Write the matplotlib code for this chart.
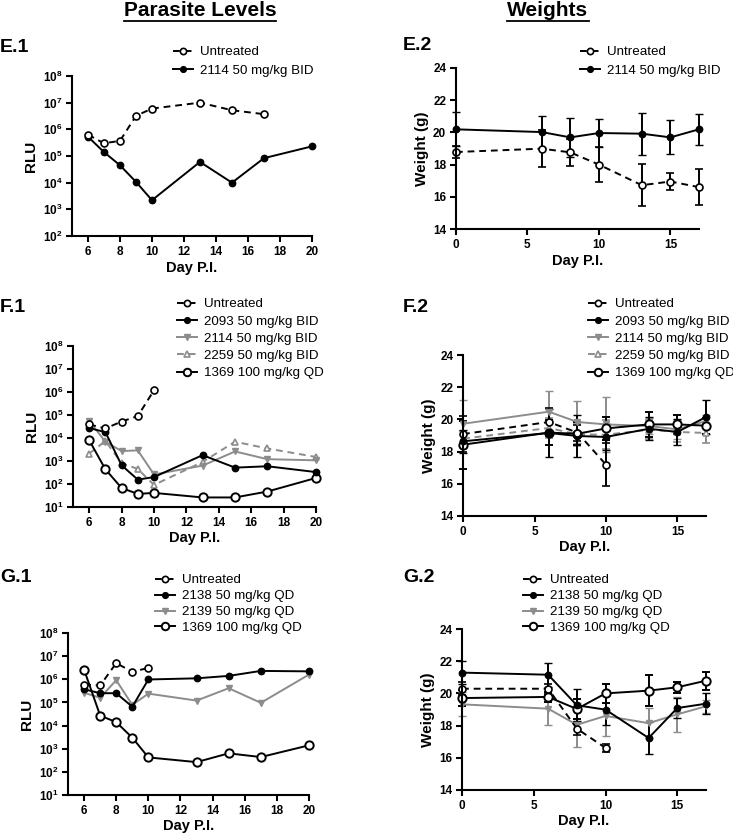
import numpy as np
import matplotlib
matplotlib.use('Agg')
import matplotlib.pyplot as plt
from matplotlib.ticker import FixedLocator, FuncFormatter, NullLocator
from matplotlib.lines import Line2D

plt.rcParams['font.family'] = ['Liberation Sans', 'DejaVu Sans']
plt.rcParams['mathtext.fontset'] = 'custom'
plt.rcParams['mathtext.rm'] = 'Liberation Sans'
plt.rcParams['mathtext.bf'] = 'Liberation Sans:bold'

GRAY = '#8c8c8c'

# ---------------- data ----------------
# parasite levels (RLU)
days_rlu = [6, 7, 8, 9, 10, 13, 15, 17, 20]
days_unt_e = [6, 7, 8, 9, 10, 13, 15, 17]
days_unt_fg = [6, 7, 8, 9, 10]

e1_untreated = [6.3e5, 3.0e5, 3.7e5, 3.2e6, 6.0e6, 1.0e7, 5.2e6, 3.7e6]
e1_2114 = [5.3e5, 1.4e5, 4.5e4, 1.07e4, 2.2e3, 6.0e4, 1.0e4, 8.3e4, 2.3e5]

f1_untreated = [3.9e4, 2.6e4, 5.2e4, 9.0e4, 1.2e6]
f1_2093 = [2.7e4, 1.8e4, 650, 155, 200, 1.8e3, 515, 590, 330]
f1_2114 = [5.5e4, 6.9e3, 2.7e3, 2.9e3, 260, 630, 2.6e3, 1.2e3, 1.07e3]
f1_2259 = [2.1e3, 7.4e3, 810, 450, 91, 910, 6.9e3, 3.5e3, 1.5e3]
f1_1369 = [8.0e3, 435, 67, 37, 41, 26, 26, 47, 183]

g1_untreated = [5.9e5, 5.4e5, 5.0e6, 2.1e6, 3.1e6]
g1_2138 = [3.7e5, 2.5e5, 2.5e5, 6.5e4, 9.8e5, 1.1e6, 1.4e6, 2.3e6, 2.2e6]
g1_2139 = [2.6e5, 1.6e5, 9.1e5, 7.8e4, 2.4e5, 1.2e5, 4.1e5, 9.6e4, 1.6e6]
g1_1369 = [2.6e6, 2.7e4, 1.4e4, 3.0e3, 420, 263, 630, 435, 1.4e3]

# weights (g), mean and error
days_w = [0, 6, 8, 10, 13, 15, 17]
days_w_unt = [0, 6, 8, 10]

e2_untreated = [18.78, 18.99, 18.76, 18.0, 16.72, 16.95, 16.6]
e2_untreated_err = [0.4, 1.15, 0.85, 1.07, 1.3, 0.5, 1.1]
e2_2114 = [20.19, 20.02, 19.69, 19.96, 19.92, 19.69, 20.19]
e2_2114_err = [1.05, 1.0, 1.2, 0.85, 1.3, 1.05, 0.95]

f2_untreated = [19.09, 19.84, 19.18, 17.19]
f2_untreated_err = [1.1, 0.9, 0.5, 1.33]
f2_2093 = [18.64, 19.16, 18.97, 18.91, 19.42, 19.22, 20.15]
f2_2093_err = [0.7, 1.5, 1.3, 0.8, 0.7, 0.8, 1.05]
f2_2114 = [19.73, 20.48, 19.84, 19.69, 19.59, 19.38, 19.9]
f2_2114_err = [1.45, 1.3, 1.3, 1.7, 0.5, 0.6, 0.4]
f2_2259 = [18.8, 19.47, 19.07, 19.05, 19.36, 19.22, 19.16]
f2_2259_err = [0.5, 0.6, 0.7, 0.9, 0.6, 0.6, 0.6]
f2_1369 = [18.43, 19.18, 19.11, 19.44, 19.69, 19.69, 19.61]
f2_1369_err = [1.5, 0.8, 0.7, 0.7, 0.8, 0.6, 0.5]

g2_untreated = [20.29, 20.29, 17.81, 16.61]
g2_untreated_err = [0.4, 0.3, 0.4, 0.25]
g2_2138 = [21.29, 21.16, 19.26, 18.99, 17.23, 19.09, 19.36]
g2_2138_err = [0.7, 0.75, 1.0, 0.95, 1.0, 0.6, 0.64]
g2_2139 = [19.32, 19.05, 18.05, 18.6, 18.15, 18.7, 19.2]
g2_2139_err = [0.75, 1.0, 1.35, 1.25, 0.95, 1.1, 0.4]
g2_1369 = [19.71, 19.78, 19.03, 20.0, 20.17, 20.38, 20.79]
g2_1369_err = [0.5, 0.3, 0.6, 0.6, 0.95, 0.35, 0.55]

# series styles
st_unt = dict(color='black', ls=(0, (3.5, 2.5)), marker='o', mfc='white', ms=5, mew=1.2)
st_fill = dict(color='black', ls='-', marker='o', mfc='black', ms=4.6, mew=1)
st_gdown = dict(color=GRAY, ls='-', marker='v', mfc=GRAY, ms=4.8, mew=1)
st_gup = dict(color=GRAY, ls=(0, (3.5, 2.5)), marker='^', mfc='white', ms=5, mew=1.2)
st_open = dict(color='black', ls='-', marker='o', mfc='white', ms=6, mew=1.4)

LW = 1.4
fig = plt.figure(figsize=(7.33, 8.34), dpi=100)


def style_axes(ax):
    for s in ['top', 'right']:
        ax.spines[s].set_visible(False)
    for s in ['left', 'bottom']:
        ax.spines[s].set_linewidth(1.5)
    ax.tick_params(width=1.5, length=4, labelsize=8.5, pad=3)
    for lab in ax.get_xticklabels() + ax.get_yticklabels():
        lab.set_fontweight('bold')
    ax.set_xlabel('Day P.I.', fontsize=10.5, fontweight='bold', labelpad=2)


def rlu_axes(rect, ymin):
    ax = fig.add_axes(rect)
    ax.set_yscale('log')
    ax.set_xlim(5, 20)
    ax.set_ylim(ymin, 1e8)
    ax.xaxis.set_major_locator(FixedLocator([6, 8, 10, 12, 14, 16, 18, 20]))
    exps = range(int(np.log10(ymin)), 9)
    ax.yaxis.set_major_locator(FixedLocator([10.0 ** k for k in exps]))
    ax.yaxis.set_minor_locator(NullLocator())
    ax.yaxis.set_major_formatter(FuncFormatter(
        lambda v, p: r'$\mathbf{10^{%d}}$' % round(np.log10(v))))
    style_axes(ax)
    ax.set_ylabel('RLU', fontsize=11, fontweight='bold', labelpad=3)
    return ax


def weight_axes(rect):
    ax = fig.add_axes(rect)
    ax.set_xlim(0, 17)
    ax.set_ylim(14, 24)
    ax.set_xticks([0, 5, 10, 15])
    ax.set_yticks([14, 16, 18, 20, 22, 24])
    style_axes(ax)
    ax.set_ylabel('Weight (g)', fontsize=11, fontweight='bold', labelpad=3)
    return ax


def add_legend(ax, handles, labels, anchor, spacing):
    ax.legend(handles, labels, loc='upper left', bbox_to_anchor=anchor,
              bbox_transform=fig.transFigure, frameon=False, fontsize=9.6,
              borderpad=0, borderaxespad=0, handlelength=1.5,
              handletextpad=0.5, labelspacing=spacing, markerscale=0.9)


def plot_line(ax, x, y, st, label):
    h, = ax.plot(x, y, lw=LW, clip_on=False, label=label, **st)
    return h


def plot_err(ax, x, y, e, st, label):
    cont = ax.errorbar(x, y, yerr=e, lw=LW, capsize=3, capthick=1.4,
                       elinewidth=1.4, clip_on=False, label=label, **st)
    for art in cont.lines[1] + cont.lines[2]:
        art.set_clip_on(False)
    return cont.lines[0]


# ---------------- E.1 ----------------
ax = rlu_axes([0.0982, 0.717, 0.3274, 0.1919], 1e2)
h1 = plot_line(ax, days_rlu, e1_2114, st_fill, '2114 50 mg/kg BID')
h0 = plot_line(ax, days_unt_e, e1_untreated, st_unt, 'Untreated')
add_legend(ax, [h0, h1], ['Untreated', '2114 50 mg/kg BID'], (173 / 733, 1 - 46 / 834), 0.44)

# ---------------- E.2 ----------------
ax = weight_axes([0.622, 0.7254, 0.3316, 0.1931])
h1 = plot_err(ax, days_w, e2_2114, e2_2114_err, st_fill, '2114 50 mg/kg BID')
h0 = plot_err(ax, days_w, e2_untreated, e2_untreated_err, st_unt, 'Untreated')
add_legend(ax, [h0, h1], ['Untreated', '2114 50 mg/kg BID'], (580 / 733, 1 - 46 / 834), 0.44)

# ---------------- F.1 ----------------
f_labels = ['Untreated', '2093 50 mg/kg BID', '2114 50 mg/kg BID',
            '2259 50 mg/kg BID', '1369 100 mg/kg QD']
ax = rlu_axes([0.0996, 0.3921, 0.3315, 0.1930], 1e1)
hs = [plot_line(ax, days_rlu, f1_2259, st_gup, f_labels[3]),
      plot_line(ax, days_rlu, f1_2114, st_gdown, f_labels[2]),
      plot_line(ax, days_rlu, f1_1369, st_open, f_labels[4]),
      plot_line(ax, days_rlu, f1_2093, st_fill, f_labels[1]),
      plot_line(ax, days_unt_fg, f1_untreated, st_unt, f_labels[0])]
add_legend(ax, [hs[4], hs[3], hs[1], hs[0], hs[2]], f_labels, (177 / 733, 1 - 298 / 834), 0.37)

# ---------------- F.2 ----------------
ax = weight_axes([0.6317, 0.3813, 0.3315, 0.1930])
hs = [plot_err(ax, days_w, f2_2259, f2_2259_err, st_gup, f_labels[3]),
      plot_err(ax, days_w, f2_2114, f2_2114_err, st_gdown, f_labels[2]),
      plot_err(ax, days_w, f2_1369, f2_1369_err, st_open, f_labels[4]),
      plot_err(ax, days_w, f2_2093, f2_2093_err, st_fill, f_labels[1]),
      plot_err(ax, days_w_unt, f2_untreated, f2_untreated_err, st_unt, f_labels[0])]
add_legend(ax, [hs[4], hs[3], hs[1], hs[0], hs[2]], f_labels, (588 / 733, 1 - 298 / 834), 0.37)

# ---------------- G.1 ----------------
g_labels = ['Untreated', '2138 50 mg/kg QD', '2139 50 mg/kg QD', '1369 100 mg/kg QD']
ax = rlu_axes([0.0928, 0.0468, 0.3288, 0.1942], 1e1)
hs = [plot_line(ax, days_rlu, g1_2139, st_gdown, g_labels[2]),
      plot_line(ax, days_rlu, g1_1369, st_open, g_labels[3]),
      plot_line(ax, days_rlu, g1_2138, st_fill, g_labels[1]),
      plot_line(ax, days_unt_fg, g1_untreated, st_unt, g_labels[0])]
add_legend(ax, [hs[3], hs[2], hs[0], hs[1]], g_labels, (155 / 733, 1 - 574 / 834), 0.27)

# ---------------- G.2 ----------------
ax = weight_axes([0.6303, 0.0528, 0.3329, 0.1930])
hs = [plot_err(ax, days_w, g2_2139, g2_2139_err, st_gdown, g_labels[2]),
      plot_err(ax, days_w, g2_1369, g2_1369_err, st_open, g_labels[3]),
      plot_err(ax, days_w, g2_2138, g2_2138_err, st_fill, g_labels[1]),
      plot_err(ax, days_w_unt, g2_untreated, g2_untreated_err, st_unt, g_labels[0])]
add_legend(ax, [hs[3], hs[2], hs[0], hs[1]], g_labels, (523 / 733, 1 - 574 / 834), 0.27)

# ---------------- titles and panel labels ----------------
panel_labels = ['E.1', 'E.2', 'F.1', 'F.2', 'G.1', 'G.2']
label_xy = [(0, 48), (403, 45), (0, 307), (403, 307), (0, 578), (403, 578)]
for lab, (px, py) in zip(panel_labels, label_xy):
    fig.text(px / 733, 1 - py / 834, lab, fontsize=14, fontweight='bold',
             ha='left', va='center')

titles = ['Parasite Levels', 'Weights']
title_x = [200, 548]
fig.canvas.draw()
renderer = fig.canvas.get_renderer()
for t, tx in zip(titles, title_x):
    txt = fig.text(tx / 733, 1 - 11 / 834, t, fontsize=15, fontweight='bold',
                   ha='center', va='center')
    bb = txt.get_window_extent(renderer).transformed(fig.transFigure.inverted())
    fig.add_artist(Line2D([bb.x0, bb.x1], [bb.y0 - 0.001, bb.y0 - 0.001],
                          color='black', lw=1.3, transform=fig.transFigure))

fig.savefig('out.png', dpi=100)
